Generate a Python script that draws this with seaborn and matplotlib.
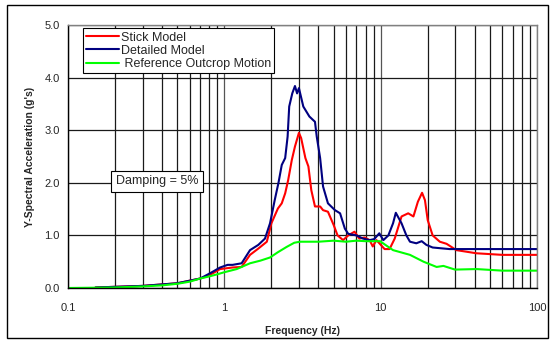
import numpy as np
import pandas as pd
import matplotlib
matplotlib.use("Agg")
import matplotlib.pyplot as plt
from matplotlib.patches import Rectangle
from matplotlib.ticker import LogLocator, FixedLocator, NullFormatter
import seaborn as sns

# Response spectra (frequency in Hz, spectral acceleration in g)
stick_freq = [0.15, 0.3, 0.5, 0.7, 0.8, 0.94, 1.13, 1.29, 1.46, 1.65, 1.87, 2.0, 2.2, 2.33,
              2.45, 2.56, 2.7, 2.83, 3.0, 3.1, 3.3, 3.45, 3.6, 3.8, 4.1, 4.28, 4.6, 5.0, 5.3,
              5.75, 6.2, 6.8, 7.3, 7.9, 8.5, 8.9, 9.4, 10.6, 11.4, 12.3, 13.6, 15.0, 16.2,
              17.3, 18.4, 19.2, 20.0, 21.5, 23.9, 26.4, 30.5, 41.0, 60.0, 100.0]
stick_acc = [0.01, 0.04, 0.09, 0.18, 0.24, 0.36, 0.39, 0.40, 0.63, 0.75, 0.88, 1.23, 1.51, 1.61,
             1.80, 2.05, 2.43, 2.69, 2.95, 2.85, 2.47, 2.31, 1.86, 1.55, 1.55, 1.48, 1.45, 1.20,
             1.00, 0.91, 1.00, 1.07, 0.94, 0.96, 0.91, 0.79, 0.91, 0.74, 0.74, 0.94, 1.36, 1.42,
             1.36, 1.64, 1.81, 1.67, 1.29, 1.00, 0.88, 0.84, 0.72, 0.66, 0.63, 0.63]

detailed_freq = [0.15, 0.3, 0.5, 0.7, 0.81, 0.94, 1.05, 1.13, 1.29, 1.46, 1.65, 1.82, 1.96, 2.1,
                 2.22, 2.33, 2.45, 2.54, 2.6, 2.72, 2.83, 2.92, 3.0, 3.2, 3.5, 3.8, 3.9, 4.1,
                 4.28, 4.6, 5.1, 5.5, 5.9, 6.2, 7.0, 7.7, 8.5, 9.1, 9.8, 10.4, 11.2, 12.0, 12.5,
                 13.6, 14.6, 15.4, 16.9, 18.3, 19.6, 21.5, 27.6, 100.0]
detailed_acc = [0.01, 0.04, 0.09, 0.18, 0.28, 0.39, 0.44, 0.44, 0.47, 0.72, 0.82, 0.94, 1.23, 1.67,
                2.00, 2.34, 2.47, 2.88, 3.45, 3.70, 3.84, 3.70, 3.80, 3.45, 3.26, 3.16, 2.88, 2.47,
                1.93, 1.61, 1.48, 1.42, 1.13, 1.03, 1.00, 0.94, 0.91, 0.93, 1.04, 0.91, 1.00, 1.23,
                1.43, 1.23, 1.00, 0.88, 0.85, 0.89, 0.82, 0.77, 0.74, 0.74]

outcrop_freq = [0.1, 0.2, 0.3, 0.4, 0.5, 0.6, 0.7, 0.8, 0.9, 1.0, 1.2, 1.46, 1.7, 1.96, 2.2,
                2.5, 2.8, 3.05, 4.0, 5.0, 6.0, 7.0, 8.0, 9.9, 12.0, 15.4, 18.8, 22.8, 25.2,
                29.9, 41.0, 60.0, 100.0]
outcrop_acc = [0.0, 0.01, 0.03, 0.05, 0.08, 0.12, 0.18, 0.22, 0.26, 0.30, 0.36, 0.47, 0.52, 0.58,
               0.68, 0.78, 0.86, 0.88, 0.88, 0.90, 0.88, 0.90, 0.89, 0.89, 0.72, 0.63, 0.50, 0.40,
               0.42, 0.35, 0.36, 0.33, 0.33]

series_names = ["Stick Model", "Detailed Model", " Reference Outcrop Motion"]
series_colors = ["#ff0000", "#000080", "#00ff00"]
x_tick_values = [0.1, 1, 10, 100]
x_tick_labels = ["0.1", "1", "10", "100"]
y_tick_values = [0.0, 1.0, 2.0, 3.0, 4.0, 5.0]
y_tick_labels = ["0.0", "1.0", "2.0", "3.0", "4.0", "5.0"]

sns.set_style("white")
plt.rcParams["font.family"] = ["Liberation Sans", "DejaVu Sans"]

frames = []
for name, f, a in zip(series_names,
                      [stick_freq, detailed_freq, outcrop_freq],
                      [stick_acc, detailed_acc, outcrop_acc]):
    frames.append(pd.DataFrame({"Frequency": f, "Acceleration": a, "Series": name}))
data = pd.concat(frames, ignore_index=True)

fig = plt.figure(figsize=(5.51, 3.41), dpi=100)
ax = fig.add_axes([68 / 551, 53 / 341, 469 / 551, 263 / 341])

# outer chart border
fig.patches.append(Rectangle((7 / 551, 3 / 341), 541 / 551, 333 / 341,
                             transform=fig.transFigure, fill=False,
                             edgecolor="black", linewidth=1.0))

sns.lineplot(data=data, x="Frequency", y="Acceleration", hue="Series",
             hue_order=series_names, palette=series_colors, sort=False,
             estimator=None, linewidth=1.5, ax=ax, legend=True)

ax.set_xscale("log")
ax.set_xlim(0.1, 100)
ax.set_ylim(0, 5)

ax.xaxis.set_major_locator(FixedLocator(x_tick_values))
ax.set_xticklabels(x_tick_labels)
ax.xaxis.set_minor_locator(LogLocator(base=10, subs=np.arange(2, 10)))
ax.xaxis.set_minor_formatter(NullFormatter())
ax.set_yticks(y_tick_values)
ax.set_yticklabels(y_tick_labels)

ax.grid(True, which="major", axis="x", color="#555555", linewidth=0.9)
ax.grid(True, which="minor", axis="x", color="#1a1a1a", linewidth=0.9)
ax.grid(True, which="major", axis="y", color="#1a1a1a", linewidth=0.9)
ax.set_axisbelow(True)

ax.tick_params(axis="both", which="major", labelsize=8, direction="out",
               length=3, width=0.8, color="black", pad=3)
ax.tick_params(axis="x", which="major", pad=8)
ax.tick_params(axis="x", which="minor", length=0)

for side in ["left", "bottom"]:
    ax.spines[side].set_color("black")
    ax.spines[side].set_linewidth(1.0)
for side in ["top", "right"]:
    ax.spines[side].set_color("#808080")
    ax.spines[side].set_linewidth(1.0)

ax.set_xlabel("Frequency (Hz)", fontsize=7.5, fontweight="bold", labelpad=9)
ax.set_ylabel("Y-Spectral Acceleration (g's)", fontsize=7.5, fontweight="bold", labelpad=7)

leg = ax.legend(loc="upper left", bbox_to_anchor=(0.032, 0.987), fontsize=9,
                frameon=True, fancybox=False, framealpha=1, edgecolor="black",
                handlelength=2.6, handletextpad=0.15, borderpad=0.25,
                labelspacing=0.1, borderaxespad=0)
leg.get_frame().set_linewidth(0.8)

ax.text(0.19, 0.405, "Damping = 5%", transform=ax.transAxes, fontsize=9,
        ha="center", va="center",
        bbox=dict(boxstyle="square,pad=0.35", facecolor="white",
                  edgecolor="black", linewidth=0.8))

fig.savefig("out.png", dpi=100)
